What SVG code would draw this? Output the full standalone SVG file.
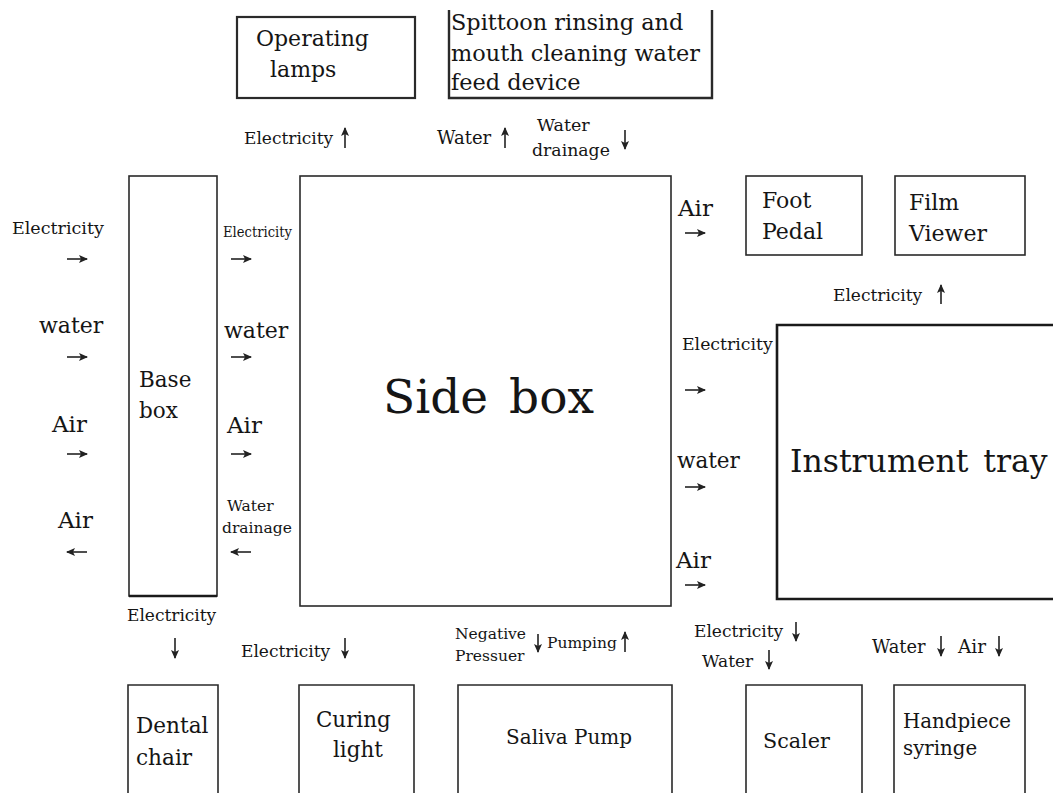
<svg xmlns="http://www.w3.org/2000/svg" width="1053" height="793" viewBox="0 0 1053 793">
<style>
.t{font-family:"DejaVu Serif","Liberation Serif",serif;fill:#151515}
.box{fill:none;stroke:#2a2a2a;stroke-width:1.6}
.thick{fill:none;stroke:#1a1a1a;stroke-width:2.6}
.arr{stroke:#222;stroke-width:1.6;fill:none;marker-end:url(#ah)}
</style>
<defs>
<marker id="ah" markerUnits="userSpaceOnUse" markerWidth="9" markerHeight="8" refX="8" refY="4" orient="auto">
<path d="M0,0 L9,4 L0,8 L2,4 Z" fill="#222"/>
</marker>
</defs>
<rect width="1053" height="793" fill="#fff"/>

<g id="operating-lamps">
<rect class="box" x="237" y="17" width="178" height="81" style="stroke-width:2.2"/>
<text class="t" x="256" y="46" font-size="22">Operating</text>
<text class="t" x="270" y="77" font-size="22">lamps</text>
</g>
<g id="spittoon">
<path class="box" d="M449,10 V98 H712 V10" style="stroke-width:2.4"/>
<text class="t" x="451" y="30" font-size="22.4">Spittoon rinsing and</text>
<text class="t" x="451" y="61" font-size="22.4">mouth cleaning water</text>
<text class="t" x="451" y="90" font-size="22.4">feed device</text>
</g>
<g id="base-box">
<rect class="box" x="129" y="176" width="88" height="420"/>
<line x1="129" y1="596" x2="217" y2="596" stroke="#1a1a1a" stroke-width="2.6"/>
<text class="t" x="139" y="387" font-size="21.5">Base</text>
<text class="t" x="139" y="418" font-size="21.5">box</text>
</g>
<g id="side-box">
<rect class="box" x="300" y="176" width="371" height="430"/>
<text class="t" x="383" y="413" font-size="47" word-spacing="6">Side box</text>
</g>
<g id="foot-pedal">
<rect class="box" x="746" y="176" width="116" height="79"/>
<text class="t" x="762" y="208" font-size="22">Foot</text>
<text class="t" x="762" y="239" font-size="22">Pedal</text>
</g>
<g id="film-viewer">
<rect class="box" x="895" y="176" width="130" height="79"/>
<text class="t" x="909" y="210" font-size="22">Film</text>
<text class="t" x="909" y="241" font-size="22">Viewer</text>
</g>
<g id="instrument-tray">
<path class="thick" d="M1060,325 H777 V599 H1060"/>
<text class="t" x="790" y="472" font-size="31.5" word-spacing="5">Instrument tray</text>
</g>
<g id="dental-chair">
<path class="box" d="M128,800 V685 H218 V800"/>
<text class="t" x="136" y="733" font-size="21.6">Dental</text>
<text class="t" x="136" y="765" font-size="21.6">chair</text>
</g>
<g id="curing-light">
<path class="box" d="M299,800 V685 H414 V800"/>
<text class="t" x="316" y="727" font-size="21.4">Curing</text>
<text class="t" x="333" y="757" font-size="21.4">light</text>
</g>
<g id="saliva-pump">
<path class="box" d="M458,800 V685 H672 V800"/>
<text class="t" x="506" y="744" font-size="20">Saliva Pump</text>
</g>
<g id="scaler">
<path class="box" d="M746,800 V685 H862 V800"/>
<text class="t" x="763" y="748" font-size="20.7">Scaler</text>
</g>
<g id="handpiece-syringe">
<path class="box" d="M894,800 V685 H1025 V800"/>
<text class="t" x="903" y="728" font-size="19.8">Handpiece</text>
<text class="t" x="903" y="755" font-size="19.8">syringe</text>
</g>

<g id="labels">
<text class="t" x="244" y="144" font-size="17">Electricity</text>
<text class="t" x="437" y="144" font-size="18">Water</text>
<text class="t" x="537" y="131" font-size="17.5">Water</text>
<text class="t" x="532" y="156" font-size="17.3">drainage</text>

<text class="t" x="12" y="234" font-size="17.5">Electricity</text>
<text class="t" x="39" y="333" font-size="22">water</text>
<text class="t" x="52" y="432" font-size="23">Air</text>
<text class="t" x="58" y="528" font-size="23">Air</text>

<text class="t" x="223" y="237" font-size="15.5" textLength="69" lengthAdjust="spacingAndGlyphs">Electricity</text>
<text class="t" x="224" y="338" font-size="22">water</text>
<text class="t" x="227" y="433" font-size="23">Air</text>
<text class="t" x="227" y="511" font-size="15.5">Water</text>
<text class="t" x="222" y="533" font-size="15.5">drainage</text>

<text class="t" x="678" y="216" font-size="23">Air</text>
<text class="t" x="682" y="350" font-size="17.3">Electricity</text>
<text class="t" x="677" y="468" font-size="21.5">water</text>
<text class="t" x="676" y="568" font-size="23">Air</text>
<text class="t" x="833" y="301" font-size="17">Electricity</text>

<text class="t" x="127" y="621" font-size="17">Electricity</text>
<text class="t" x="241" y="657" font-size="17">Electricity</text>
<text class="t" x="455" y="639" font-size="15.5">Negative</text>
<text class="t" x="455" y="661" font-size="15.5">Pressuer</text>
<text class="t" x="547" y="648" font-size="15.5">Pumping</text>
<text class="t" x="694" y="637" font-size="17">Electricity</text>
<text class="t" x="702" y="667" font-size="17">Water</text>
<text class="t" x="872" y="653" font-size="17.8">Water</text>
<text class="t" x="958" y="653" font-size="18.4">Air</text>
</g>

<g id="connectors">
<line class="arr" x1="345" y1="148" x2="345" y2="128"/>
<line class="arr" x1="505" y1="148" x2="505" y2="128"/>
<line class="arr" x1="625" y1="130" x2="625" y2="149"/>

<line class="arr" x1="67" y1="259" x2="87" y2="259"/>
<line class="arr" x1="67" y1="357" x2="87" y2="357"/>
<line class="arr" x1="67" y1="454" x2="87" y2="454"/>
<line class="arr" x1="87" y1="552" x2="67" y2="552"/>

<line class="arr" x1="231" y1="259" x2="251" y2="259"/>
<line class="arr" x1="231" y1="357" x2="251" y2="357"/>
<line class="arr" x1="231" y1="454" x2="251" y2="454"/>
<line class="arr" x1="251" y1="552" x2="231" y2="552"/>

<line class="arr" x1="685" y1="233" x2="705" y2="233"/>
<line class="arr" x1="685" y1="390" x2="705" y2="390"/>
<line class="arr" x1="685" y1="487" x2="705" y2="487"/>
<line class="arr" x1="685" y1="585" x2="705" y2="585"/>
<line class="arr" x1="941" y1="304" x2="941" y2="285"/>

<line class="arr" x1="175" y1="638" x2="175" y2="658"/>
<line class="arr" x1="345" y1="638" x2="345" y2="658"/>
<line class="arr" x1="538" y1="634" x2="538" y2="652"/>
<line class="arr" x1="625" y1="652" x2="625" y2="632"/>
<line class="arr" x1="796" y1="622" x2="796" y2="641"/>
<line class="arr" x1="769" y1="650" x2="769" y2="669"/>
<line class="arr" x1="941" y1="636" x2="941" y2="656"/>
<line class="arr" x1="999" y1="636" x2="999" y2="656"/>
</g>
</svg>
